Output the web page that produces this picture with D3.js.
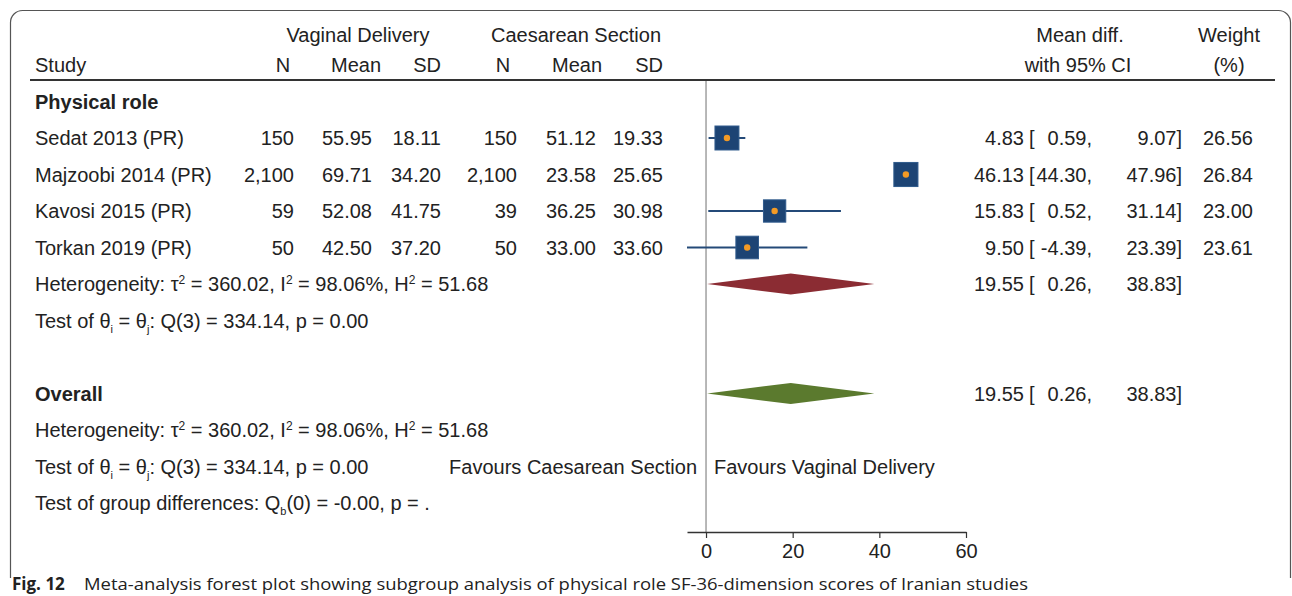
<!DOCTYPE html>
<html>
<head>
<meta charset="utf-8">
<script src="https://cdn.jsdelivr.net/npm/d3@7"></script>
<style>
  html, body { margin: 0; padding: 0; background: #fff; }
  svg { display: block; }
</style>
</head>
<body>
<div id="chart"></div>
<script>
// forest plot: physical role SF-36, Iranian studies

const studies = ["Sedat 2013 (PR)", "Majzoobi 2014 (PR)", "Kavosi 2015 (PR)", "Torkan 2019 (PR)"];
const vdN = [150, 2100, 59, 50];
const vdMean = [55.95, 69.71, 52.08, 42.50];
const vdSD = [18.11, 34.20, 41.75, 37.20];
const csN = [150, 2100, 39, 50];
const csMean = [51.12, 23.58, 36.25, 33.00];
const csSD = [19.33, 25.65, 30.98, 33.60];
const meanDiff = [4.83, 46.13, 15.83, 9.50];
const ciLow = [0.59, 44.30, 0.52, -4.39];
const ciHigh = [9.07, 47.96, 31.14, 23.39];
const weights = [26.56, 26.84, 23.00, 23.61];

const pooledEst = [19.55, 19.55];   // subgroup, overall
const pooledLow = [0.26, 0.26];
const pooledHigh = [38.83, 38.83];
const xTicks = [0, 20, 40, 60];

const width = 1292;
const height = 596;
const font = "'Liberation Sans', Arial, sans-serif";
const fs = 20;
const ink = "#222";

const svg = d3.select("#chart").append("svg")
  .attr("width", width)
  .attr("height", height);

// frame (open at the bottom, caption sits below)
svg.append("path")
  .attr("d", "M10.5,578 V22.5 A12,12 0 0 1 22.5,10.5 H1278.5 A12,12 0 0 1 1290.5,22.5 V578")
  .attr("fill", "none")
  .attr("stroke", "#555")
  .attr("stroke-width", 1.2);

const x = d3.scaleLinear().domain([-4.39, 60]).range([687, 966]);
const row = d3.scaleLinear().domain([0, 11]).range([101.5, 503]);

const locale = d3.formatLocale({ decimal: ".", thousands: ",", grouping: [3], currency: ["", ""], minus: "-" });
const fmt2 = locale.format(".2f");
const fmtN = locale.format(",");

function txt(xp, yp, s, anchor, opts = {}) {
  return svg.append("text")
    .attr("x", xp).attr("y", yp)
    .attr("dy", "0.36em")
    .attr("text-anchor", anchor || "start")
    .attr("font-family", font)
    .attr("font-size", opts.size || fs)
    .attr("font-weight", opts.bold ? "bold" : null)
    .attr("fill", ink)
    .text(s);
}

// header
txt(358, 35, "Vaginal Delivery", "middle");
txt(576, 35, "Caesarean Section", "middle");
txt(35, 65, "Study");
txt(283, 65, "N", "middle");
txt(356, 65, "Mean", "middle");
txt(441, 65, "SD", "end");
txt(503, 65, "N", "middle");
txt(577, 65, "Mean", "middle");
txt(663, 65, "SD", "end");
txt(1080, 35, "Mean diff.", "middle");
txt(1078, 65, "with 95% CI", "middle");
txt(1229, 35, "Weight", "middle");
txt(1229, 65, "(%)", "middle");

svg.append("line")
  .attr("x1", 30).attr("x2", 1275)
  .attr("y1", 80).attr("y2", 80)
  .attr("stroke", "#333").attr("stroke-width", 2);

// zero line
svg.append("line")
  .attr("x1", x(0)).attr("x2", x(0))
  .attr("y1", 81).attr("y2", 532)
  .attr("stroke", "#888").attr("stroke-width", 1.2);

txt(35, row(0), "Physical role", "start", { bold: true });

// right-hand CI text: est [ lo, hi]
function ciText(y, est, lo, hi) {
  txt(1024, y, fmt2(est), "end");
  txt(1029, y, "[");
  txt(1092, y, fmt2(lo) + ",", "end");
  txt(1182, y, fmt2(hi) + "]", "end");
}

// study rows
studies.forEach((s, i) => {
  const y = row(i + 1);
  txt(35, y, s);
  txt(294, y, fmtN(vdN[i]), "end");
  txt(372, y, fmt2(vdMean[i]), "end");
  txt(441, y, fmt2(vdSD[i]), "end");
  txt(517, y, fmtN(csN[i]), "end");
  txt(596, y, fmt2(csMean[i]), "end");
  txt(663, y, fmt2(csSD[i]), "end");
  ciText(y, meanDiff[i], ciLow[i], ciHigh[i]);
  txt(1253, y, fmt2(weights[i]), "end");
});

// CI lines and squares
const marks = svg.append("g");
marks.selectAll("line.ci")
  .data(studies)
  .join("line")
  .attr("class", "ci")
  .attr("x1", (d, i) => x(ciLow[i]))
  .attr("x2", (d, i) => x(ciHigh[i]))
  .attr("y1", (d, i) => row(i + 1))
  .attr("y2", (d, i) => row(i + 1))
  .attr("stroke", "#244a78")
  .attr("stroke-width", 2);

const side = w => Math.sqrt(w) * 4.65;
marks.selectAll("rect.box")
  .data(studies)
  .join("rect")
  .attr("class", "box")
  .attr("x", (d, i) => x(meanDiff[i]) - side(weights[i]) / 2)
  .attr("y", (d, i) => row(i + 1) - side(weights[i]) / 2)
  .attr("width", (d, i) => side(weights[i]))
  .attr("height", (d, i) => side(weights[i]))
  .attr("fill", "#1d4474")
  .attr("stroke", "#2f5a8c")
  .attr("stroke-width", 1);

marks.selectAll("circle.pt")
  .data(studies)
  .join("circle")
  .attr("class", "pt")
  .attr("cx", (d, i) => x(meanDiff[i]))
  .attr("cy", (d, i) => row(i + 1))
  .attr("r", 3.2)
  .attr("fill", "#f39a25");

// pooled diamonds
const diamondRows = [5, 8];
const diamondColors = ["#8b2c33", "#5b7a2e"];
diamondRows.forEach((r, k) => {
  const y = row(r);
  const h = 10.5;
  svg.append("path")
    .attr("d", `M${x(pooledLow[k])},${y} L${x(pooledEst[k])},${y - h} L${x(pooledHigh[k])},${y} L${x(pooledEst[k])},${y + h} Z`)
    .attr("fill", diamondColors[k]);
  ciText(y, pooledEst[k], pooledLow[k], pooledHigh[k]);
});

// heterogeneity / tests text (sub/superscripts with pixel shifts)
function sup(t, s) {
  t.append("tspan").attr("font-size", 12).attr("dy", -7).text(s);
}
function sub(t, s) {
  t.append("tspan").attr("font-size", 11).attr("dy", 5).text(s);
}
function hetLine(y) {
  const t = txt(35, y, "");
  t.append("tspan").text("Heterogeneity: τ");
  sup(t, "2");
  t.append("tspan").attr("dy", 7).text(" = 360.02, I");
  sup(t, "2");
  t.append("tspan").attr("dy", 7).text(" = 98.06%, H");
  sup(t, "2");
  t.append("tspan").attr("dy", 7).text(" = 51.68");
}
function testLine(y) {
  const t = txt(35, y, "");
  t.append("tspan").text("Test of θ");
  sub(t, "i");
  t.append("tspan").attr("dy", -5).text(" = θ");
  sub(t, "j");
  t.append("tspan").attr("dy", -5).text(": Q(3) = 334.14, p = 0.00");
}
hetLine(row(5));
testLine(row(6));
txt(35, row(8), "Overall", "start", { bold: true });
hetLine(row(9));
testLine(row(10));
{
  const t = txt(35, row(11), "");
  t.append("tspan").text("Test of group differences: Q");
  sub(t, "b");
  t.append("tspan").attr("dy", -5).text("(0) = -0.00, p = .");
}

txt(x(0) - 9, row(10), "Favours Caesarean Section", "end");
txt(x(0) + 8, row(10), "Favours Vaginal Delivery", "start");

// x axis
const axis = svg.append("g")
  .attr("transform", "translate(0,532)")
  .call(d3.axisBottom(x).tickValues(xTicks).tickSize(6).tickSizeOuter(0).tickPadding(6));
axis.select(".domain").attr("stroke", "#333").attr("stroke-width", 1.5);
axis.selectAll(".tick line").attr("stroke", "#333").attr("stroke-width", 1.2);
axis.selectAll(".tick text")
  .attr("font-family", font)
  .attr("font-size", fs)
  .attr("fill", ink);

// caption
svg.append("text")
  .attr("x", 12).attr("y", 590)
  .attr("font-family", "'Open Sans', 'Noto Sans', sans-serif")
  .attr("font-size", 17)
  .attr("font-weight", "bold")
  .attr("fill", ink)
  .text("Fig. 12");
svg.append("text")
  .attr("x", 84).attr("y", 590)
  .attr("font-family", "'Open Sans', 'Noto Sans', sans-serif")
  .attr("font-size", 17)
  .attr("fill", ink)
  .attr("textLength", 944)
  .attr("lengthAdjust", "spacingAndGlyphs")
  .text("Meta-analysis forest plot showing subgroup analysis of physical role SF-36-dimension scores of Iranian studies");
</script>
</body>
</html>
